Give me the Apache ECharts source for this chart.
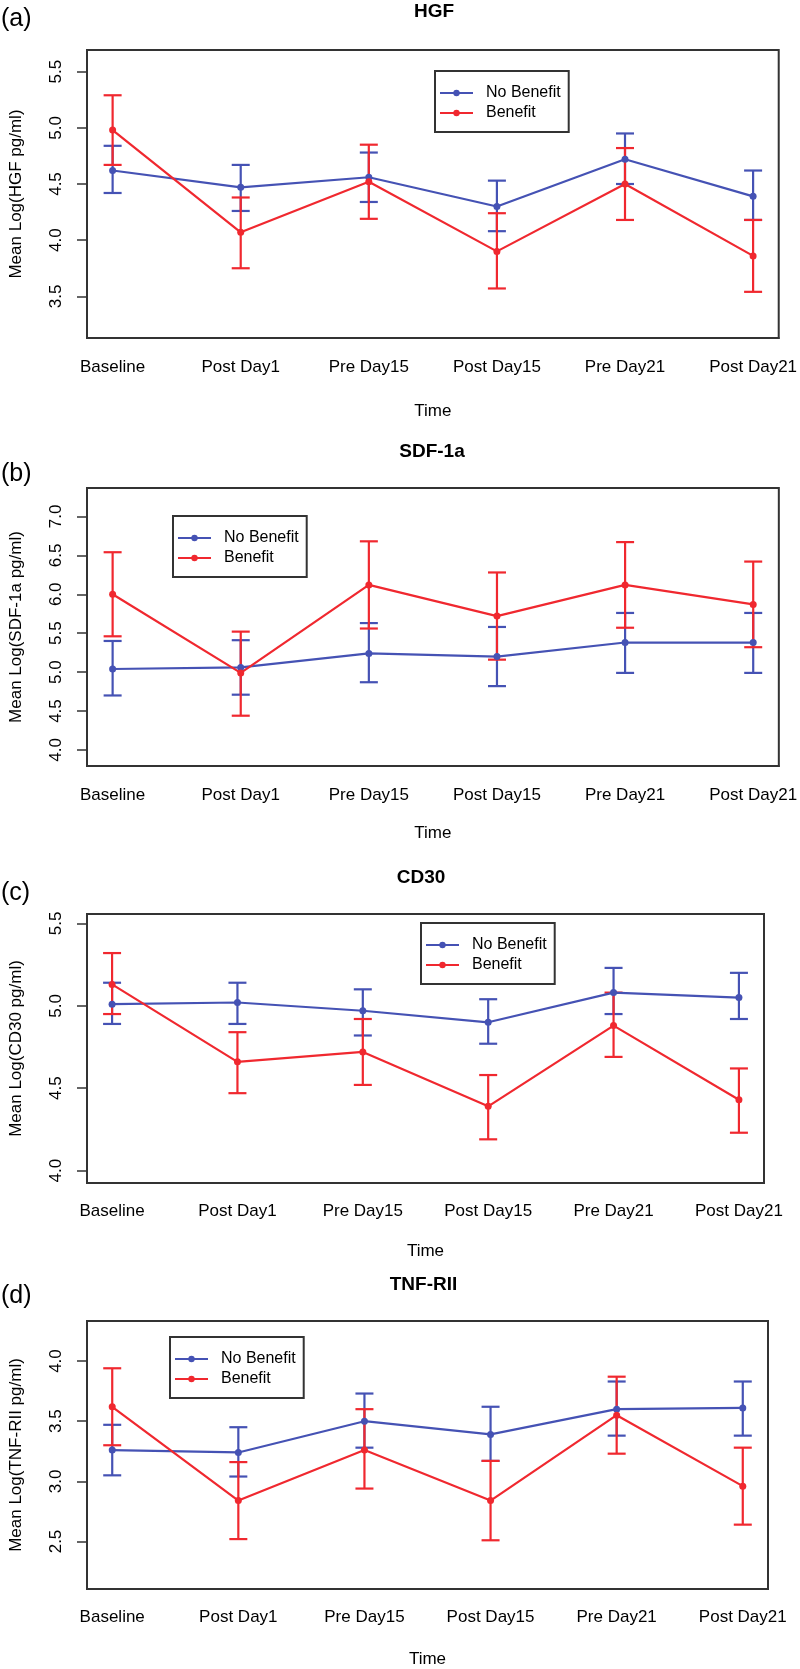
<!DOCTYPE html>
<html>
<head>
<meta charset="utf-8">
<script src="https://cdn.jsdelivr.net/npm/echarts@6/dist/echarts.min.js"></script>
<style>
html,body{margin:0;padding:0;background:#fff;}
#chart{width:800px;height:1669px;}
</style>
</head>
<body>
<div id="chart"></div>
<script>
// ---- Data ----
const categories = ['Baseline', 'Post Day1', 'Pre Day15', 'Post Day15', 'Pre Day21', 'Post Day21'];

// (a) HGF
const hgfNoBenefitMean = [4.62, 4.47, 4.56, 4.30, 4.72, 4.39];
const hgfNoBenefitLow  = [4.42, 4.26, 4.34, 4.08, 4.50, 4.18];
const hgfNoBenefitHigh = [4.84, 4.67, 4.78, 4.53, 4.95, 4.62];
const hgfBenefitMean   = [4.98, 4.07, 4.52, 3.90, 4.50, 3.86];
const hgfBenefitLow    = [4.67, 3.75, 4.19, 3.57, 4.18, 3.54];
const hgfBenefitHigh   = [5.29, 4.38, 4.85, 4.24, 4.82, 4.18];
const hgfTicks = [3.5, 4.0, 4.5, 5.0, 5.5];

// (b) SDF-1a
const sdfNoBenefitMean = [5.04, 5.06, 5.24, 5.20, 5.38, 5.38];
const sdfNoBenefitLow  = [4.70, 4.71, 4.87, 4.82, 4.99, 4.99];
const sdfNoBenefitHigh = [5.40, 5.41, 5.63, 5.58, 5.76, 5.76];
const sdfBenefitMean   = [6.00, 4.99, 6.12, 5.72, 6.12, 5.87];
const sdfBenefitLow    = [5.46, 4.44, 5.56, 5.16, 5.57, 5.32];
const sdfBenefitHigh   = [6.54, 5.52, 6.68, 6.28, 6.67, 6.42];
const sdfTicks = [4.0, 4.5, 5.0, 5.5, 6.0, 6.5, 7.0];

// (c) CD30
const cd30NoBenefitMean = [5.01, 5.02, 4.97, 4.90, 5.08, 5.05];
const cd30NoBenefitLow  = [4.89, 4.89, 4.82, 4.77, 4.95, 4.92];
const cd30NoBenefitHigh = [5.14, 5.14, 5.10, 5.04, 5.23, 5.20];
const cd30BenefitMean   = [5.13, 4.66, 4.72, 4.39, 4.88, 4.43];
const cd30BenefitLow    = [4.95, 4.47, 4.52, 4.19, 4.69, 4.23];
const cd30BenefitHigh   = [5.32, 4.84, 4.92, 4.58, 5.08, 4.62];
const cd30Ticks = [4.0, 4.5, 5.0, 5.5];

// (d) TNF-RII
const tnfNoBenefitMean = [3.26, 3.24, 3.50, 3.39, 3.60, 3.61];
const tnfNoBenefitLow  = [3.05, 3.04, 3.28, 3.17, 3.38, 3.38];
const tnfNoBenefitHigh = [3.47, 3.45, 3.73, 3.62, 3.83, 3.83];
const tnfBenefitMean   = [3.62, 2.84, 3.26, 2.84, 3.55, 2.96];
const tnfBenefitLow    = [3.30, 2.52, 2.94, 2.51, 3.23, 2.64];
const tnfBenefitHigh   = [3.94, 3.16, 3.60, 3.17, 3.87, 3.28];
const tnfTicks = [2.5, 3.0, 3.5, 4.0];

// ---- Layout / style ----
const FONT = '"Liberation Sans", Arial, Helvetica, sans-serif';
const BLUE = '#4552B4';
const RED = '#F0282F';
const BOX = '#333333';
const TXT = '#000000';

const panels = [
  { letter: '(a)', title: 'HGF', yName: 'Mean Log(HGF pg/ml)',
    noMean: hgfNoBenefitMean, noLow: hgfNoBenefitLow, noHigh: hgfNoBenefitHigh,
    bMean: hgfBenefitMean, bLow: hgfBenefitLow, bHigh: hgfBenefitHigh, ticks: hgfTicks,
    yMin: 3.129, yMax: 5.693,
    grid: { left: 86, top: 50, width: 697, height: 288 },
    titleX: 434, titleY: 2.5, letterY: 5, labelMargin: 21, nameGap: 65,
    legend: { left: 435, top: 71 } },
  { letter: '(b)', title: 'SDF-1a', yName: 'Mean Log(SDF-1a pg/ml)',
    noMean: sdfNoBenefitMean, noLow: sdfNoBenefitLow, noHigh: sdfNoBenefitHigh,
    bMean: sdfBenefitMean, bLow: sdfBenefitLow, bHigh: sdfBenefitHigh, ticks: sdfTicks,
    yMin: 3.794, yMax: 7.365,
    grid: { left: 83, top: 488, width: 703, height: 278 },
    titleX: 432, titleY: 442.5, letterY: 460, labelMargin: 21, nameGap: 59,
    legend: { left: 173, top: 516 } },
  { letter: '(c)', title: 'CD30', yName: 'Mean Log(CD30 pg/ml)',
    noMean: cd30NoBenefitMean, noLow: cd30NoBenefitLow, noHigh: cd30NoBenefitHigh,
    bMean: cd30BenefitMean, bLow: cd30BenefitLow, bHigh: cd30BenefitHigh, ticks: cd30Ticks,
    yMin: 3.925, yMax: 5.557,
    grid: { left: 82, top: 914, width: 682, height: 269 },
    titleX: 421, titleY: 868, letterY: 879, labelMargin: 20, nameGap: 60,
    legend: { left: 421, top: 923 } },
  { letter: '(d)', title: 'TNF-RII', yName: 'Mean Log(TNF-RII pg/ml)',
    noMean: tnfNoBenefitMean, noLow: tnfNoBenefitLow, noHigh: tnfNoBenefitHigh,
    bMean: tnfBenefitMean, bLow: tnfBenefitLow, bHigh: tnfBenefitHigh, ticks: tnfTicks,
    yMin: 2.105, yMax: 4.333,
    grid: { left: 82, top: 1321, width: 686, height: 272 },
    titleX: 423.5, titleY: 1275.5, letterY: 1282, labelMargin: 20, nameGap: 62,
    legend: { left: 170, top: 1337 } }
];

function errorBarRenderer(color) {
  return function (params, api) {
    const x = api.value(0);
    const lo = api.coord([x, api.value(1)]);
    const hi = api.coord([x, api.value(2)]);
    const hw = 9;
    const style = { stroke: color, lineWidth: 2.2 };
    return {
      type: 'group',
      children: [
        { type: 'line', shape: { x1: lo[0], y1: lo[1], x2: hi[0], y2: hi[1] }, style: style },
        { type: 'line', shape: { x1: lo[0] - hw, y1: lo[1], x2: lo[0] + hw, y2: lo[1] }, style: style },
        { type: 'line', shape: { x1: hi[0] - hw, y1: hi[1], x2: hi[0] + hw, y2: hi[1] }, style: style }
      ]
    };
  };
}

const option = {
  backgroundColor: '#ffffff',
  animation: false,
  textStyle: { fontFamily: FONT },
  title: [], grid: [], xAxis: [], yAxis: [], legend: [], series: []
};

panels.forEach(function (p, i) {
  option.title.push({
    text: p.title, left: p.titleX, top: p.titleY, textAlign: 'center', padding: 0,
    textStyle: { fontFamily: FONT, fontSize: 19, fontWeight: 'bold', color: TXT, lineHeight: 19 }
  });
  option.title.push({
    text: p.letter, left: 1, top: p.letterY, padding: 0,
    textStyle: { fontFamily: FONT, fontSize: 25, fontWeight: 'normal', color: TXT, lineHeight: 28 }
  });
  option.grid.push(Object.assign({ show: true, borderColor: BOX, borderWidth: 2, backgroundColor: 'transparent' }, p.grid));
  option.xAxis.push({
    type: 'value', gridIndex: i, min: 0.8, max: 6.2,
    name: 'Time', nameLocation: 'middle', nameGap: p.nameGap,
    nameTextStyle: { fontFamily: FONT, fontSize: 17, color: TXT },
    axisLine: { show: true, lineStyle: { color: BOX, width: 2 } },
    axisTick: { show: false },
    splitLine: { show: false },
    axisLabel: {
      customValues: [1, 2, 3, 4, 5, 6], margin: p.labelMargin,
      fontFamily: FONT, fontSize: 17, color: TXT,
      formatter: function (v) { return categories[Math.round(v) - 1] || ''; }
    }
  });
  option.yAxis.push({
    type: 'value', gridIndex: i, min: p.yMin, max: p.yMax,
    name: p.yName, nameLocation: 'middle', nameGap: 62, nameRotate: 90,
    nameTextStyle: { fontFamily: FONT, fontSize: 17, color: TXT },
    axisLine: { show: true, lineStyle: { color: BOX, width: 2 } },
    axisTick: { show: true, customValues: p.ticks, length: 10, lineStyle: { color: BOX, width: 1.5 } },
    splitLine: { show: false },
    axisLabel: {
      customValues: p.ticks, rotate: 90, margin: 22,
      fontFamily: FONT, fontSize: 17, color: TXT,
      formatter: function (v) { return v.toFixed(1); }
    }
  });
  option.legend.push({
    data: ['No Benefit', 'Benefit'], orient: 'vertical',
    left: p.legend.left, top: p.legend.top,
    backgroundColor: '#fff', borderColor: BOX, borderWidth: 2,
    padding: [14, 8, 11, 4], itemGap: 4, itemWidth: 33, itemHeight: 8,
    selectedMode: false,
    textStyle: { fontFamily: FONT, fontSize: 16, color: TXT, lineHeight: 16, padding: [0, 0, 0, 8] }
  });
  const groups = [
    { name: 'No Benefit', color: BLUE, mean: p.noMean, low: p.noLow, high: p.noHigh },
    { name: 'Benefit', color: RED, mean: p.bMean, low: p.bLow, high: p.bHigh }
  ];
  groups.forEach(function (g) {
    option.series.push({
      name: g.name + ' error', type: 'custom', xAxisIndex: i, yAxisIndex: i,
      renderItem: errorBarRenderer(g.color),
      encode: { x: 0, y: [1, 2] },
      data: g.mean.map(function (_, k) { return [k + 1, g.low[k], g.high[k]]; }),
      z: 2
    });
    option.series.push({
      name: g.name, type: 'line', xAxisIndex: i, yAxisIndex: i,
      data: g.mean.map(function (v, k) { return [k + 1, v]; }),
      symbol: 'circle', symbolSize: 7, showSymbol: true,
      itemStyle: { color: g.color },
      lineStyle: { color: g.color, width: 2.2 },
      z: 3
    });
  });
});

const chart = echarts.init(document.getElementById('chart'), null, { renderer: 'canvas' });
chart.setOption(option);
</script>
</body>
</html>
